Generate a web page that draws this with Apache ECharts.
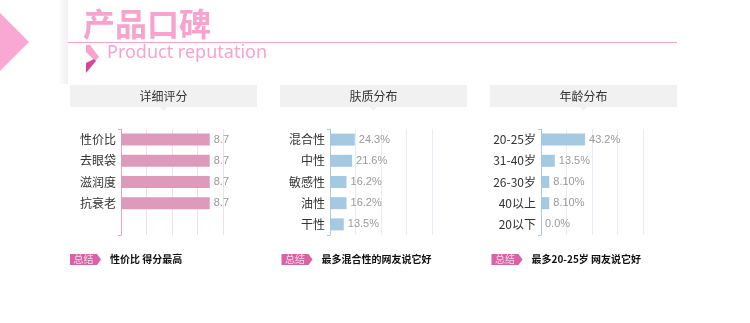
<!DOCTYPE html>
<html><head><meta charset="utf-8">
<script src="https://cdn.jsdelivr.net/npm/echarts@6/dist/echarts.min.js"></script>
<style>html,body{margin:0;padding:0;background:#fff}#c{width:750px;height:323px}</style>
</head><body><div id="c"></div>
<script>
const scoreCats = ['性价比','去眼袋','滋润度','抗衰老',''];
const scoreVals = [8.7, 8.7, 8.7, 8.7, null];
const scoreLabels = ['8.7','8.7','8.7','8.7',''];
const skinCats = ['混合性','中性','敏感性','油性','干性'];
const skinVals = [24.3, 21.6, 16.2, 16.2, 13.5];
const skinLabels = ['24.3%','21.6%','16.2%','16.2%','13.5%'];
const ageCats = ['20-25岁','31-40岁','26-30岁','40以上','20以下'];
const ageVals = [43.2, 13.5, 8.1, 8.1, 0];
const ageLabels = ['43.2%','13.5%','8.10%','8.10%','0.0%'];
const panelTitles = ['详细评分','肤质分布','年龄分布'];
const summaries = ['性价比 得分最高','最多混合性的网友说它好','最多20-25岁 网友说它好'];
const badgeText = '总结';
const mainTitle = '产品口碑';
const subTitle = 'Product reputation';

const FONT = '"Noto Sans CJK SC","Noto Sans",sans-serif';
const chart = echarts.init(document.getElementById('c'), null, {renderer:'canvas'});

const panels = [
  {boxX:70, axisX:121, cats:scoreCats, vals:scoreVals, labels:scoreLabels, max:10, interval:2.5, bar:'#de9abb', axis:'#e6a2c3', split:'#f6dce8'},
  {boxX:280, axisX:330, cats:skinCats, vals:skinVals, labels:skinLabels, max:100, interval:25, bar:'#a6c9e2', axis:'#a9cbe3', split:'#e3eef7'},
  {boxX:490, axisX:541, cats:ageCats, vals:ageVals, labels:ageLabels, max:100, interval:25, bar:'#a6c9e2', axis:'#a9cbe3', split:'#e3eef7'}
];

const grids = [], xAxes = [], yAxes = [], series = [], graphics = [];

// header decorations
graphics.push({type:'polygon', shape:{points:[[0,13],[29,42],[0,71]]}, style:{fill:'#f9a8d4'}});
graphics.push({type:'rect', shape:{x:58,y:0,width:10,height:84}, style:{fill:new echarts.graphic.LinearGradient(0,0,1,0,[{offset:0,color:'rgba(0,0,0,0)'},{offset:1,color:'rgba(0,0,0,0.06)'}])}});
graphics.push({type:'text', x:83, y:24, style:{text:mainTitle, font:'bold 32px '+FONT, fill:'#f7a3cf', textVerticalAlign:'middle'}});
graphics.push({type:'line', shape:{x1:68,y1:42.5,x2:677,y2:42.5}, style:{stroke:'#f7a0cc', lineWidth:1}});
graphics.push({type:'polygon', shape:{points:[[86,45],[90,45],[99,57],[95,61],[86,52]]}, style:{fill:'#f7a3cf'}});
graphics.push({type:'polygon', shape:{points:[[86,63],[94,59],[96,61],[86,73]]}, style:{fill:'#d4489a'}});
graphics.push({type:'text', x:107, y:53, style:{text:subTitle, font:'18px "Noto Sans",sans-serif', fill:'#f7a3cf', textVerticalAlign:'middle'}});

panels.forEach((p, i) => {
  grids.push({left:p.axisX, top:129, width:102, height:106, containLabel:false});
  xAxes.push({type:'value', gridIndex:i, min:0, max:p.max, interval:p.interval,
    axisLabel:{show:false}, axisLine:{show:false}, axisTick:{show:false},
    splitLine:{show:true, lineStyle:{color:p.split, width:1}}});
  yAxes.push({type:'category', gridIndex:i, data:p.cats, inverse:true,
    axisLine:{show:true, lineStyle:{color:p.axis, width:1}},
    axisTick:{show:true, interval:4, length:3, lineStyle:{color:p.axis}},
    axisLabel:{color:'#333', fontSize:12, margin:5, fontFamily:FONT},
    splitLine:{show:false}});
  series.push({type:'bar', xAxisIndex:i, yAxisIndex:i, data:p.vals, barWidth:12,
    itemStyle:{color:p.bar}, silent:true,
    label:{show:true, position:'right', distance:4, color:'#999', fontSize:11, fontFamily:'"Liberation Sans",Arial,sans-serif',
      formatter: (pr) => p.labels[pr.dataIndex]}});
  // panel header box
  graphics.push({type:'rect', shape:{x:p.boxX, y:85, width:187, height:22}, style:{fill:'#f1f1f1'}});
  graphics.push({type:'polygon', shape:{points:[[p.boxX+90,107],[p.boxX+97,107],[p.boxX+93.5,111]]}, style:{fill:'#f1f1f1'}});
  graphics.push({type:'text', x:p.boxX+93.5, y:96, style:{text:panelTitles[i], font:'12px '+FONT, fill:'#333', textAlign:'center', textVerticalAlign:'middle'}});
  // footer badge
  const bx = p.boxX + (i===0 ? 0 : 1.5);
  graphics.push({type:'polygon', shape:{points:[[bx,254],[bx+27,254],[bx+31,259.5],[bx+27,265],[bx,265]]}, style:{fill:'#d862a6'}});
  graphics.push({type:'text', x:bx+13.5, y:259.5, style:{text:badgeText, font:'10px '+FONT, fill:'#f6dbea', textAlign:'center', textVerticalAlign:'middle'}});
  graphics.push({type:'text', x:bx+40, y:259.5, style:{text:summaries[i], font:'bold 10px '+FONT, fill:'#111', textVerticalAlign:'middle'}});
});

chart.setOption({
  animation:false,
  backgroundColor:'#fff',
  grid:grids, xAxis:xAxes, yAxis:yAxes, series:series,
  graphic:graphics
});
</script></body></html>
